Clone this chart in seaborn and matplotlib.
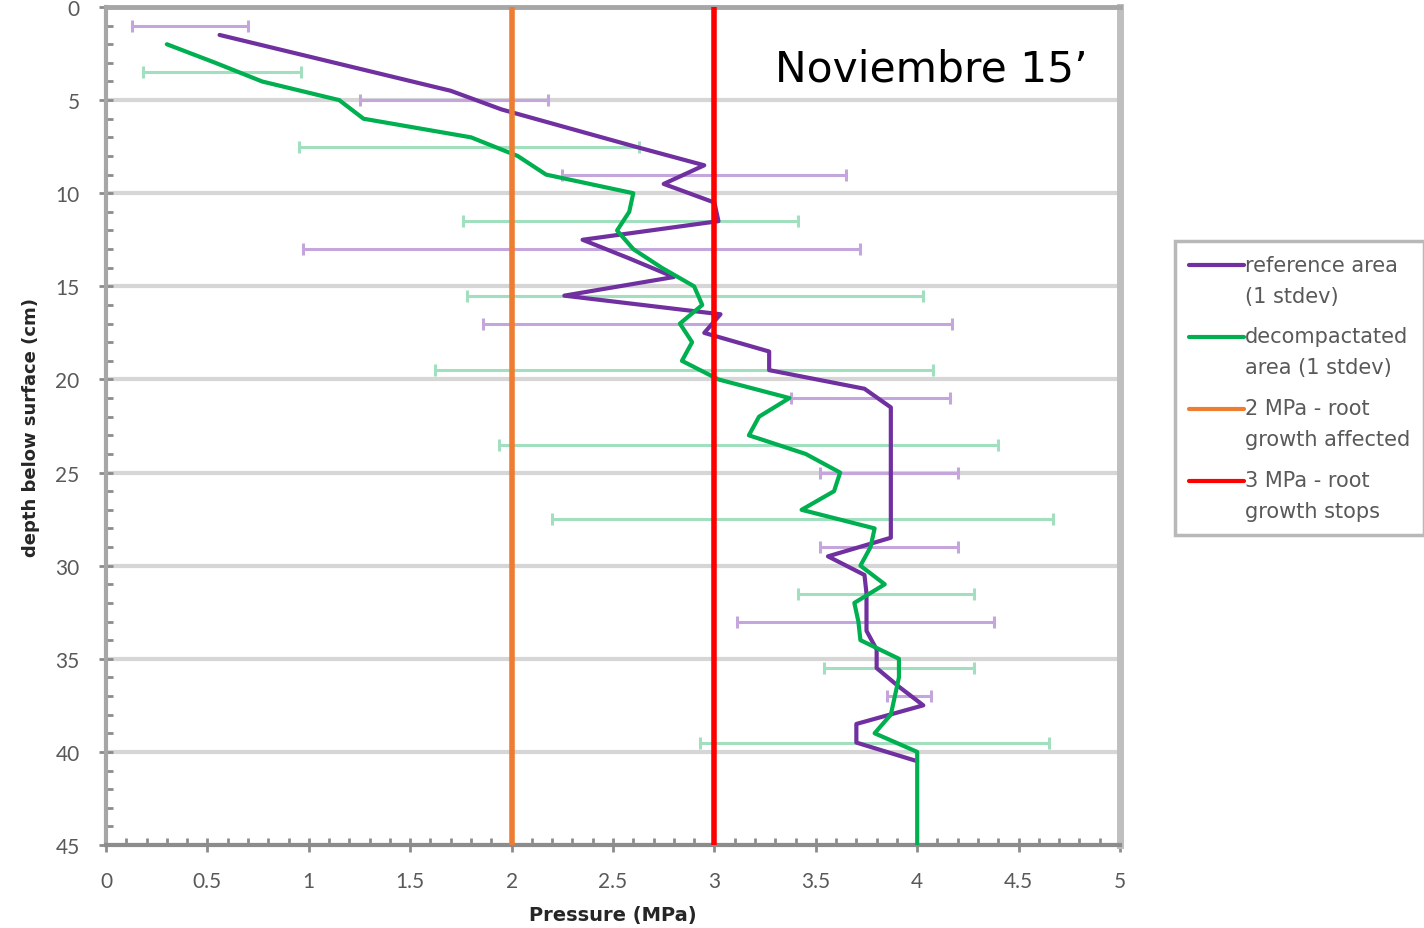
import matplotlib
matplotlib.use("Agg")
import matplotlib.pyplot as plt
from matplotlib.lines import Line2D
from matplotlib.legend_handler import HandlerLine2D
from matplotlib.ticker import MultipleLocator, FuncFormatter
import seaborn as sns
import numpy as np
import pandas as pd

# ---------------- data ----------------
ref_depth = [1.5, 2.5, 3.5, 4.5, 5.5, 6.5, 7.5, 8.5, 9.5, 10.5,
             11.5, 12.5, 13.5, 14.5, 15.5, 16.5, 17.5, 18.5, 19.5, 20.5,
             21.5, 22.5, 23.5, 24.5, 25.5, 26.5, 27.5, 28.5, 29.5, 30.5,
             31.5, 32.5, 33.5, 34.5, 35.5, 36.5, 37.5, 38.5, 39.5, 40.5]
ref_pressure = [0.56, 0.94, 1.32, 1.70, 1.95, 2.28, 2.61, 2.95, 2.75, 3.00,
                3.02, 2.35, 2.58, 2.80, 2.26, 3.03, 2.95, 3.27, 3.27, 3.74,
                3.87, 3.87, 3.87, 3.87, 3.87, 3.87, 3.87, 3.87, 3.56, 3.74,
                3.75, 3.75, 3.75, 3.80, 3.80, 3.91, 4.03, 3.70, 3.70, 4.00]

dec_depth = [2, 3, 4, 5, 6, 7, 8, 9, 10, 11, 12, 13, 14, 15, 16, 17, 18, 19, 20,
             21, 22, 23, 24, 25, 26, 27, 28, 29, 30, 31, 32, 33, 34, 35, 36, 37,
             38, 39, 40, 45]
dec_pressure = [0.30, 0.54, 0.77, 1.15, 1.27, 1.80, 2.03, 2.17, 2.60, 2.58,
                2.52, 2.60, 2.74, 2.90, 2.94, 2.83, 2.89, 2.84, 3.02, 3.37,
                3.22, 3.17, 3.45, 3.62, 3.59, 3.43, 3.79, 3.77, 3.72, 3.84,
                3.69, 3.71, 3.72, 3.91, 3.91, 3.89, 3.87, 3.79, 4.00, 4.00]

ref_err_depth = [1, 5, 9, 13, 17, 21, 25, 29, 33, 37]
ref_err_low = [0.13, 1.25, 2.25, 0.97, 1.86, 3.38, 3.52, 3.52, 3.11, 3.85]
ref_err_high = [0.70, 2.18, 3.65, 3.72, 4.17, 4.16, 4.20, 4.20, 4.38, 4.07]

dec_err_depth = [3.5, 7.5, 11.5, 15.5, 19.5, 23.5, 27.5, 31.5, 35.5, 39.5]
dec_err_low = [0.18, 0.95, 1.76, 1.78, 1.62, 1.94, 2.20, 3.41, 3.54, 2.93]
dec_err_high = [0.96, 2.63, 3.41, 4.03, 4.08, 4.40, 4.67, 4.28, 4.28, 4.65]

threshold_values = [2, 3]
threshold_labels = ["2 MPa - root\ngrowth affected", "3 MPa - root\ngrowth stops"]
series_labels = ["reference area\n(1 stdev)", "decompactated\narea (1 stdev)"]
title_text = "Noviembre 15\u2019"
x_label = "Pressure (MPa)"
y_label = "depth below surface (cm)"

# ---------------- style ----------------
sns.set_theme(style="white")
plt.rcParams["font.family"] = ["Lato", "DejaVu Sans"]

PURPLE = "#7030a0"
GREEN = "#00b050"
ORANGE = "#ed7d31"
RED = "#ff0000"
PURPLE_ERR = "#c5a6dc"
GREEN_ERR = "#a2dfbf"
TICK_COLOR = "#595959"

W, H = 1424, 929
fig = plt.figure(figsize=(W / 100, H / 100), dpi=100)
ax = fig.add_axes([106 / W, 1 - 846 / H, (1120 - 106) / W, (846 - 8) / H])

# error bars
for dep, lo, hi, col in [(ref_err_depth, ref_err_low, ref_err_high, PURPLE_ERR),
                         (dec_err_depth, dec_err_low, dec_err_high, GREEN_ERR)]:
    lo = np.array(lo); hi = np.array(hi)
    ax.errorbar((lo + hi) / 2, dep, xerr=(hi - lo) / 2, fmt="none", ecolor=col,
                elinewidth=2.2, capsize=4, capthick=2.2, zorder=2)

ref_df = pd.DataFrame({"pressure": ref_pressure, "depth": ref_depth})
dec_df = pd.DataFrame({"pressure": dec_pressure, "depth": dec_depth})
sns.lineplot(data=ref_df, x="pressure", y="depth", sort=False, estimator=None,
             color=PURPLE, lw=3.0, ax=ax, zorder=4)
sns.lineplot(data=dec_df, x="pressure", y="depth", sort=False, estimator=None,
             color=GREEN, lw=3.0, ax=ax, zorder=5)

for v, c in zip(threshold_values, [ORANGE, RED]):
    ax.axvline(v, color=c, lw=4.0, zorder=6)

ax.set_xlim(0, 5)
ax.set_ylim(45, 0)

ax.xaxis.set_major_locator(MultipleLocator(0.5))
ax.xaxis.set_minor_locator(MultipleLocator(0.1))
ax.yaxis.set_major_locator(MultipleLocator(5))
ax.yaxis.set_minor_locator(MultipleLocator(1))
ax.xaxis.set_major_formatter(FuncFormatter(lambda v, p: f"{v:g}"))
ax.yaxis.set_major_formatter(FuncFormatter(lambda v, p: f"{v:g}"))

ax.grid(axis="y", which="major", color="#d6d6d6", lw=3.0, zorder=1)
ax.set_axisbelow(True)

ax.tick_params(axis="both", which="major", direction="inout", length=10, width=2,
               color="#8c8c8c", labelsize=15, labelcolor=TICK_COLOR)
ax.tick_params(axis="both", which="minor", direction="in", length=5, width=2,
               color="#8c8c8c")
ax.tick_params(axis="x", which="major", pad=14)
ax.tick_params(axis="y", which="major", pad=14)
ax.tick_params(bottom=True, left=True, which="both")

for side, col, lw in [("left", "#a6a6a6", 3), ("bottom", "#8c8c8c", 3),
                      ("top", "#a6a6a6", 3.5), ("right", "#bfbfbf", 5)]:
    ax.spines[side].set_visible(True)
    ax.spines[side].set_color(col)
    ax.spines[side].set_linewidth(lw)

ax.set_xlabel(x_label, fontsize=14, fontweight="bold", color="#262626",
              family=["DejaVu Sans"])
ax.set_ylabel(y_label, fontsize=13, fontweight="bold", color="#262626",
              family=["DejaVu Sans"])
ax.xaxis.set_label_coords(0.5, -(916 - 846) / 838)
ax.xaxis.label.set_va("center")
ax.yaxis.set_label_coords((31 - 106) / 1014, (846 - 428) / 838)
ax.yaxis.label.set_va("center")

ax.text(0.66, 0.912, title_text, transform=ax.transAxes, fontsize=30.5,
        family=["DejaVu Sans"], color="black", ha="left", va="baseline", zorder=7)


class FirstLineHandler(HandlerLine2D):
    def __init__(self, shift, **kw):
        super().__init__(**kw)
        self.shift = shift

    def create_artists(self, legend, orig_handle, xdescent, ydescent, width,
                       height, fontsize, trans):
        arts = super().create_artists(legend, orig_handle, xdescent, ydescent,
                                      width, height, fontsize, trans)
        for a in arts:
            if isinstance(a, Line2D):
                a.set_ydata(np.asarray(a.get_ydata(), dtype=float) + self.shift)
        return arts


handles = [Line2D([], [], color=PURPLE, lw=3), Line2D([], [], color=GREEN, lw=3),
           Line2D([], [], color=ORANGE, lw=3), Line2D([], [], color=RED, lw=3)]
hmap = {h: FirstLineHandler(11.0) for h in handles}
leg = fig.legend(handles, series_labels + threshold_labels,
                 loc="upper left", bbox_to_anchor=(1175 / W, 1 - 242 / H),
                 prop={"family": ["DejaVu Sans"], "size": 15},
                 frameon=True, fancybox=False, handlelength=2.64,
                 handletextpad=0.08, labelspacing=1.0, borderpad=0.65,
                 borderaxespad=0, handler_map=hmap)
leg.get_frame().set_edgecolor("#a6a6a6")
leg.get_frame().set_linewidth(2.5)
for t in leg.get_texts():
    t.set_color(TICK_COLOR)
    t.set_linespacing(1.69)

fig.savefig("out.png", dpi=100)
